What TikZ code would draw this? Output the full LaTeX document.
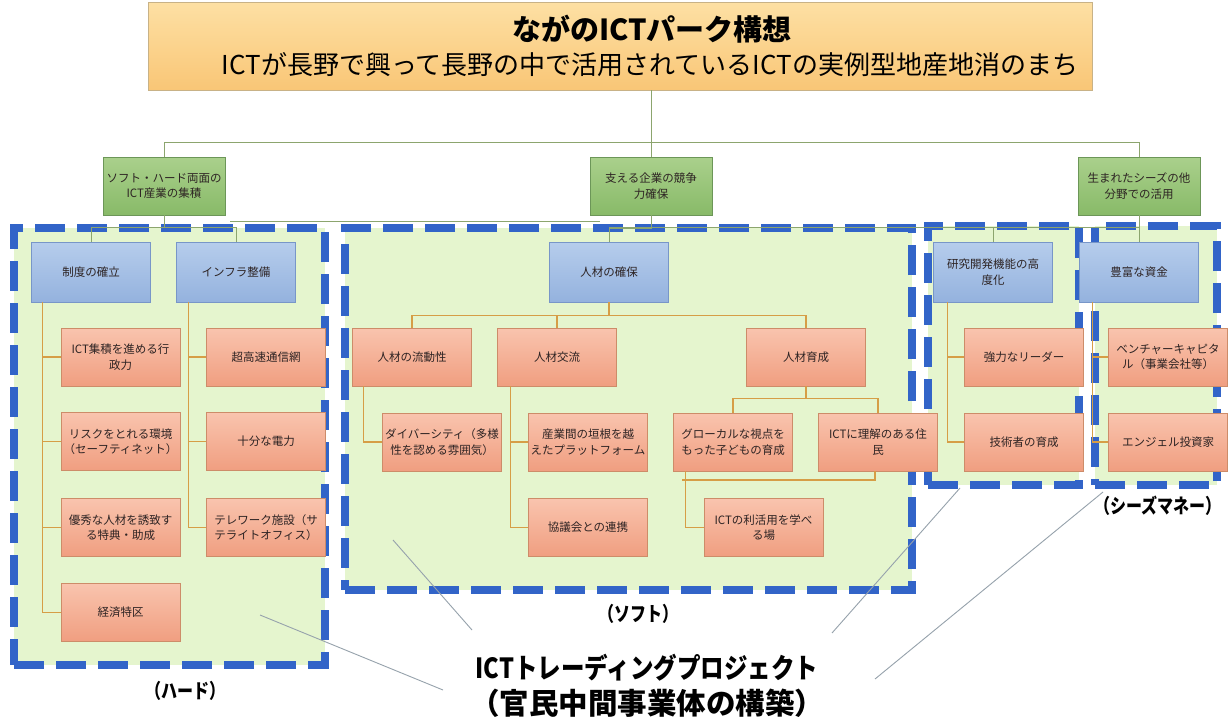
\documentclass[tikz,border=0pt]{standalone}
\usepackage{fontspec}
\usepackage{graphicx}
\setmainfont{Noto Sans CJK JP}
\definecolor{txt}{RGB}{45,35,35}
\definecolor{otop}{RGB}{249,196,174}
\definecolor{obot}{RGB}{240,158,128}
\definecolor{obrd}{RGB}{205,140,105}
\definecolor{btop}{RGB}{182,205,236}
\definecolor{bbot}{RGB}{148,178,222}
\definecolor{bbrd}{RGB}{120,150,200}
\definecolor{gtop}{RGB}{170,208,140}
\definecolor{gbot}{RGB}{136,186,104}
\definecolor{gbrd}{RGB}{108,150,88}
\definecolor{ttop}{RGB}{253,224,164}
\definecolor{tbot}{RGB}{249,198,118}
\definecolor{tbrd}{RGB}{200,178,135}
\definecolor{regfillc}{RGB}{229,245,206}
\definecolor{dashc}{RGB}{50,100,200}
\definecolor{glinec}{RGB}{140,165,110}
\definecolor{olinec}{RGB}{214,158,70}
\definecolor{pointc}{RGB}{150,162,172}
\newcommand{\fsBox}{\fontsize{11.5}{15.5}\selectfont}
\newcommand{\fsTitle}{\fontsize{29}{32}\selectfont\bfseries}
\newcommand{\fsSub}{\fontsize{26}{30}\selectfont}
\newcommand{\fsLbl}{\fontsize{16}{20}\selectfont\bfseries}
\newcommand{\fsBigA}{\fontsize{23.5}{28}\selectfont\bfseries}
\newcommand{\fsBigB}{\fontsize{29.5}{32}\selectfont\bfseries}
\tikzset{
  nbase/.style={inner sep=0pt, align=center, font=\fsBox, text=txt, line width=0.8pt},
  obox/.style={nbase, draw=obrd, top color=otop, bottom color=obot, minimum width=119pt, minimum height=58pt},
  bbox/.style={nbase, draw=bbrd, top color=btop, bottom color=bbot, minimum width=119pt, minimum height=60pt},
  gbox/.style={nbase, draw=gbrd, top color=gtop, bottom color=gbot, minimum width=122pt, minimum height=58pt},
  region/.style={draw=dashc, fill=regfillc, line width=7.5pt, dash pattern=on 30pt off 12pt, inner sep=0pt},
  gline/.style={draw=glinec, line width=1pt},
  oline/.style={draw=olinec, line width=1.2pt},
  pline/.style={draw=pointc, line width=0.9pt},
  lbl/.style={font=\fsLbl, text=black, inner sep=0pt}
}
\begin{document}
\begin{tikzpicture}[x=1pt,y=-1pt]
\useasboundingbox[fill=white] (0,0) rectangle (1230,720);

% regions
\node[region, minimum width=311pt, minimum height=437pt] (hard) at (169.5,446.5) {};
\node[region, minimum width=567pt, minimum height=362pt] (soft) at (628.5,409) {};
\node[region, minimum width=151pt, minimum height=259pt] (resr) at (1003.5,355.5) {};
\node[region, minimum width=122pt, minimum height=259pt] (mony) at (1156,355.5) {};

% title box
\node[nbase, draw=tbrd, top color=ttop, bottom color=tbot, minimum width=944pt, minimum height=88pt] (tb) at (620,46) {};
\node[font=\fsTitle, text=black, inner sep=0pt] (t1) at (652,29) {ながのICTパーク構想};
\node[font=\fsSub, text=black, inner sep=0pt] (t2) at (650,65) {ICTが長野で興って長野の中で活用されているICTの実例型地産地消のまち};

% level 1 (green)
\node[gbox] (g1) at (164,186) {ソフト・ハード両面の\\ICT産業の集積};
\node[gbox] (g2) at (651,186) {支える企業の競争\\力確保};
\node[gbox] (g3) at (1139,186) {生まれたシーズの他\\分野での活用};

% level 2 (blue)
\node[bbox] (b1) at (91,272) {制度の確立};
\node[bbox] (b2) at (236,272) {インフラ整備};
\node[bbox] (b3) at (609,272) {人材の確保};
\node[bbox] (b4) at (993,272) {研究開発機能の高\\度化};
\node[bbox] (b5) at (1139,272) {豊富な資金};

% connectors green level
\draw[gline] (g1.north) -- ++(0,-14) -| (g3.north);
\draw[gline] (tb.south -| g2.north) -- (g2.north);
\draw[gline] (g1.south) -- ++(0,13);
\draw[gline] (b1.north) -- ++(0,-14) -| (b2.north);
\draw[gline] (g2.south) -- ++(0,13) -| (b3.north);
\draw[gline] (b3.north) -- ++(0,-14) -| (b4.north);
\draw[gline] (g3.south) -- (b5.north);
\draw[gline] (b4.north) -- ++(0,-14) -| (b5.north);
\coordinate (xa) at (230,221);
\coordinate (xb) at (600,221);
\draw[gline] (xa) -- (xb);

% hard nodes
\node[obox] (h1) at (120.5,357) {ICT集積を進める行\\政力};
\node[obox] (h2) at (120.5,441.5) {リスクをとれる環境\\（セーフティネット）};
\node[obox] (h3) at (120.5,527.5) {優秀な人材を誘致す\\る特典・助成};
\node[obox] (h4) at (120.5,612.5) {経済特区};
\node[obox] (h5) at (266,357) {超高速通信網};
\node[obox] (h6) at (266,441.5) {十分な電力};
\node[obox] (h7) at (266,527.5) {テレワーク施設（サ\\テライトオフィス）};

% soft nodes
\node[obox] (s1) at (412,357) {人材の流動性};
\node[obox] (s2) at (557,357) {人材交流};
\node[obox] (s3) at (806,357) {人材育成};
\node[obox] (s4) at (442,442) {ダイバーシティ（多様\\性を認める雰囲気）};
\node[obox] (s5) at (588,442) {産業間の垣根を越\\えたプラットフォーム};
\node[obox] (s6) at (588,527.5) {協議会との連携};
\node[obox] (s7) at (733,442) {グローカルな視点を\\もった子どもの育成};
\node[obox] (s8) at (878,442) {ICTに理解のある住\\民};
\node[obox] (s9) at (763.5,527.5) {ICTの利活用を学べ\\る場};

% research / money nodes
\node[obox] (r1) at (1024,357) {強力なリーダー};
\node[obox] (r2) at (1024,442) {技術者の育成};
\node[obox] (m1) at (1168,357) {ベンチャーキャピタ\\ル（事業会社等）};
\node[obox] (m2) at (1168,442) {エンジェル投資家};

% orange connectors
\draw[oline] ([xshift=11pt]b1.south west) |- (h1.west);
\draw[oline] ([xshift=11pt]b1.south west) |- (h2.west);
\draw[oline] ([xshift=11pt]b1.south west) |- (h3.west);
\draw[oline] ([xshift=11pt]b1.south west) |- (h4.west);
\draw[oline] ([xshift=12pt]b2.south west) |- (h5.west);
\draw[oline] ([xshift=12pt]b2.south west) |- (h6.west);
\draw[oline] ([xshift=12pt]b2.south west) |- (h7.west);
\draw[oline] (b3.south) -- ++(0,13);
\draw[oline] (s1.north) -- ++(0,-12) -| (s3.north);
\draw[oline] (s2.north) -- ++(0,-12);
\draw[oline] ([xshift=11pt]s1.south west) |- (s4.west);
\draw[oline] ([xshift=13pt]s2.south west) |- (s5.west);
\draw[oline] ([xshift=13pt]s2.south west) |- (s6.west);
\draw[oline] (s3.south) -- ++(0,12);
\draw[oline] (s7.north) -- ++(0,-14) -| (s8.north);
\coordinate (rl) at (682,480);
\draw[oline] ([xshift=-3pt]s8.south) |- (rl);
\draw[oline] ([xshift=12pt]s7.south west) |- (s9.west);
\draw[oline] ([xshift=14pt]b4.south west) |- (r1.west);
\draw[oline] ([xshift=14pt]b4.south west) |- (r2.west);
\draw[oline] ([xshift=13pt]b5.south west) |- (m1.west);
\draw[oline] ([xshift=13pt]b5.south west) |- (m2.west);

% labels
\node[lbl] (lh) at (185,691) {\scalebox{1}[1.25]{（ハード）}};
\node[lbl] (ls) at (638,614) {\scalebox{1}[1.25]{（ソフト）}};
\node[lbl] (lm) at (1158,506) {\scalebox{1}[1.25]{（シーズマネー）}};
\node[font=\fsBigA, text=black, inner sep=0pt] (p1) at (647,668) {\scalebox{1}[1.18]{ICTトレーディングプロジェクト}};
\node[font=\fsBigB, text=black, inner sep=0pt] (p2) at (647,703) {（官民中間事業体の構築）};

% pointer lines
\coordinate (pa1) at (260,615); \coordinate (pa2) at (443,690);
\coordinate (pb1) at (393,540); \coordinate (pb2) at (472,630);
\coordinate (pc1) at (960,488); \coordinate (pc2) at (832,633);
\coordinate (pd1) at (1103,492); \coordinate (pd2) at (875,679);
\draw[pline] (pa1) -- (pa2);
\draw[pline] (pb1) -- (pb2);
\draw[pline] (pc1) -- (pc2);
\draw[pline] (pd1) -- (pd2);
\end{tikzpicture}
\end{document}
